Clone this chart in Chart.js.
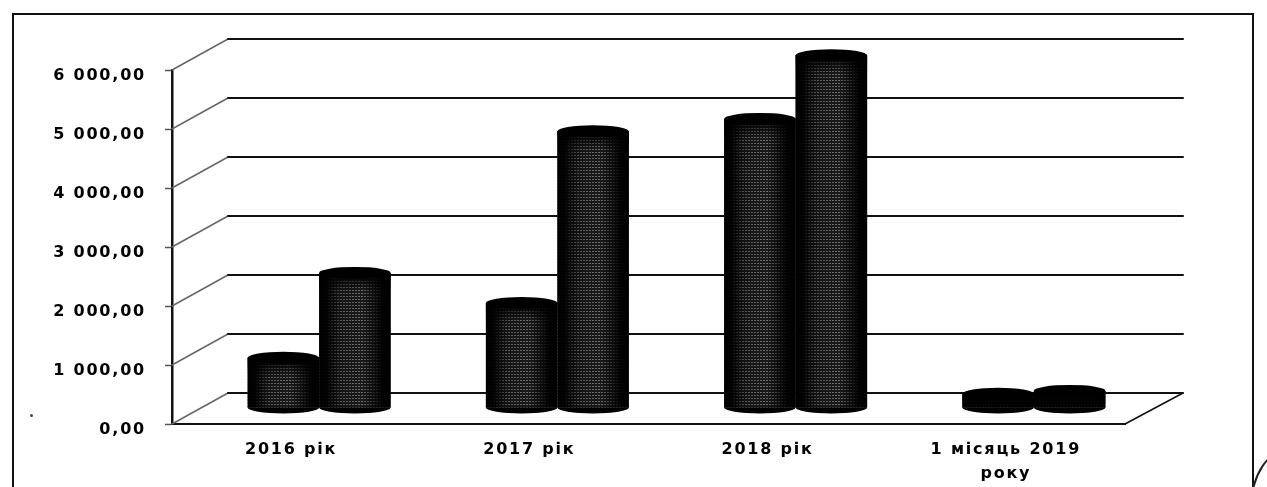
<!DOCTYPE html>
<html>
<head>
<meta charset="utf-8">
<script src="https://cdn.jsdelivr.net/npm/chart.js@4"></script>
<style>
html,body{margin:0;padding:0;background:#fff;overflow:hidden}
#wrap{position:relative;width:1267px;height:487px;overflow:hidden}
#frame{position:absolute;left:12px;top:13px;width:1242px;height:490px;border:2px solid #111;box-sizing:border-box}
#arc{position:absolute;left:1250px;top:448px;width:80px;height:120px;border-radius:50%;border:2px solid #222;box-sizing:border-box}
#dot{position:absolute;left:30px;top:414px;width:3px;height:3px;border-radius:50%;background:#444}
canvas{position:absolute;left:0;top:0}
</style>
</head>
<body>
<div id="wrap">
<div id="frame"></div><div id="arc"></div><div id="dot"></div>
<canvas id="c" width="1267" height="487"></canvas>
</div>
<script>
const categories = ['2016 рік', '2017 рік', '2018 рік', ['1 місяць 2019', 'року']];
const seriesA = [850, 1780, 4900, 240];
const seriesB = [2290, 4690, 5980, 290];
const yMax = 6000;
const yStep = 1000;

const DEPTH_X = 56, DEPTH_Y = 31, RY = 6;

function fmt(v){
  const s = Math.round(v).toString().replace(/\B(?=(\d{3})+(?!\d))/g, ' ');
  return s + ',00';
}
function makePattern(ctx){
  const t = document.createElement('canvas');
  t.width = 3; t.height = 3;
  const g = t.getContext('2d');
  g.fillStyle = '#1c1c1c'; g.fillRect(0,0,3,3);
  g.fillStyle = '#7c7c7c'; g.fillRect(0,0,2,1);
  return ctx.createPattern(t,'repeat');
}
const cylinder = {
  id:'cylinder',
  beforeDraw(chart){ chart.ctx.letterSpacing = '1.8px'; },
  beforeDatasetsDraw(chart){
    const {ctx, scales:{y}, chartArea:a} = chart;
    ctx.save();
    ctx.lineCap = 'round';
    const xB = a.right + DEPTH_X + 2;
    y.ticks.forEach(t=>{
      const p = y.getPixelForValue(t.value);
      ctx.strokeStyle = '#666'; ctx.lineWidth = 1.5;
      ctx.beginPath(); ctx.moveTo(a.left,p); ctx.lineTo(a.left+DEPTH_X,p-DEPTH_Y); ctx.stroke();
      ctx.strokeStyle = '#111'; ctx.lineWidth = 2;
      ctx.beginPath(); ctx.moveTo(a.left+DEPTH_X,p-DEPTH_Y); ctx.lineTo(xB,p-DEPTH_Y); ctx.stroke();
    });
    ctx.strokeStyle = '#111'; ctx.lineWidth = 1.5;
    ctx.beginPath(); ctx.moveTo(a.right,a.bottom); ctx.lineTo(xB,a.bottom-DEPTH_Y); ctx.stroke();
    ctx.restore();
  },
  beforeDatasetDraw(chart,args){
    const ctx = chart.ctx;
    ctx.save();
    ctx.translate(DEPTH_X/2, -DEPTH_Y/2 - 0.5);
    chart.getDatasetMeta(args.index).data.forEach(b=>{
      ctx.fillStyle = '#000';
      ctx.beginPath(); ctx.ellipse(b.x,b.base,b.width/2,RY,0,0,Math.PI*2); ctx.fill();
    });
  },
  afterDatasetDraw(chart,args){
    const ctx = chart.ctx;
    chart.getDatasetMeta(args.index).data.forEach(b=>{
      const l = b.x-b.width/2;
      const h = b.base-b.y;
      const g = ctx.createLinearGradient(l,0,l+b.width,0);
      const centre = h < 30 ? 0.92 : 0.1;
      g.addColorStop(0,'rgba(0,0,0,1)');
      g.addColorStop(.1,'rgba(0,0,0,.95)');
      g.addColorStop(.3,h < 30 ? 'rgba(0,0,0,.95)' : 'rgba(0,0,0,.3)');
      g.addColorStop(.6,'rgba(0,0,0,'+centre+')');
      g.addColorStop(.88,'rgba(0,0,0,.95)');
      g.addColorStop(1,'rgba(0,0,0,1)');
      ctx.fillStyle = g;
      ctx.fillRect(l,b.y,b.width,h);
      const v = ctx.createLinearGradient(0,b.y,0,b.y+18);
      v.addColorStop(0,'rgba(0,0,0,1)');
      v.addColorStop(1,'rgba(0,0,0,0)');
      ctx.fillStyle = v;
      ctx.fillRect(l,b.y,b.width,Math.min(18,h));
      ctx.fillStyle = '#000';
      ctx.beginPath(); ctx.ellipse(b.x,b.y,b.width/2,RY,0,0,Math.PI*2); ctx.fill();
    });
    ctx.restore();
  }
};
const ctx = document.getElementById('c').getContext('2d');
const tex = makePattern(ctx);
const font = {family:'"DejaVu Sans"',size:16,weight:'bold',lineHeight:1.5};
new Chart(ctx,{
  type:'bar',
  plugins:[cylinder],
  data:{labels:categories,datasets:[
    {label:'A',data:seriesA,backgroundColor:tex,barPercentage:1,categoryPercentage:.6,clip:false},
    {label:'B',data:seriesB,backgroundColor:tex,barPercentage:1,categoryPercentage:.6,clip:false}
  ]},
  options:{
    responsive:false,animation:false,
    layout:{padding:{left:0,right:142,top:70,bottom:0}},
    plugins:{legend:{display:false},tooltip:{enabled:false},title:{display:false}},
    scales:{
      x:{
        afterFit(s){s.height=63;},
        grid:{drawOnChartArea:false,drawTicks:false},
        border:{display:true,color:'#111',width:2},
        ticks:{color:'#000',font,padding:14,maxRotation:0,autoSkip:false}
      },
      y:{
        min:0,max:yMax,
        afterFit(s){s.width=172;},
        grid:{drawOnChartArea:false,drawTicks:true,tickLength:7,color:'#555',tickWidth:1.5},
        border:{display:true,color:'#111',width:2.5},
        ticks:{stepSize:yStep,color:'#000',font,padding:19,callback:fmt,labelOffset:5.5}
      }
    }
  }
});
</script>
</body>
</html>
